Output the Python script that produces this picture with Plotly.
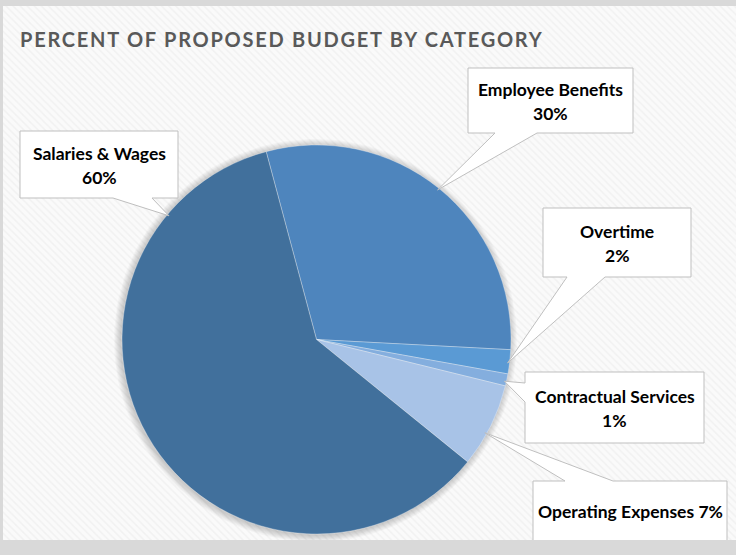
import math
import plotly.graph_objects as go

# Budget shares by category (percent of proposed budget)
categories = ["Employee Benefits", "Overtime", "Contractual Services",
              "Operating Expenses", "Salaries & Wages"]
percents = [30, 2, 1, 7, 60]
slice_colors = ["#4E85BD", "#5A9AD4", "#84AEDE", "#A8C3E7", "#41709C"]
title_text = "PERCENT OF PROPOSED BUDGET BY CATEGORY"

W, H = 736, 555
CX, CY, R = 316.5, 339.5, 194.5
START_ANGLE = -15  # first slice starts 15 degrees left of 12 o'clock

FONT = "Lato"

# Callout boxes: box (x0, y0, x1, y1) in pixels, side carrying the pointer,
# pointer base span on that side, pointer angle on the pie (deg clockwise from top)
callouts = [
    dict(box=(468, 68, 633, 133), side="bottom", base=(495, 537), angle=39, single=False),
    dict(box=(543, 208, 691, 277), side="bottom", base=(567, 605), angle=97, single=False),
    dict(box=(525, 372, 704, 443), side="left", base=(383, 402), angle=102.5, single=False),
    dict(box=(533, 481, 727, 541), side="top", base=(565, 613), angle=119, single=True),
    dict(box=(20, 131, 178, 198), side="bottom", base=(113, 152), angle=310, single=False),
]

fig = go.Figure()

# hatched chart area
fig.add_trace(go.Scatter(
    x=[3, W, W, 3, 3], y=[6, 6, 540, 540, 6], mode="lines", fill="toself",
    line=dict(width=0), fillcolor="#f9f9f9",
    fillpattern=dict(shape="\\", fgcolor="#e8e8e8", bgcolor="#fafafa", size=5, solidity=0.3),
    hoverinfo="skip", showlegend=False,
))

# soft shadow around the pie
for k in range(1, 8):
    rr = R + k
    ts = [2 * math.pi * i / 180 for i in range(181)]
    fig.add_trace(go.Scatter(
        x=[CX - 1 + rr * math.sin(t) for t in ts],
        y=[CY + 1 - rr * math.cos(t) for t in ts],
        mode="lines", fill="toself", line=dict(width=0),
        fillcolor="rgba(0,0,0,0.028)", hoverinfo="skip", showlegend=False,
    ))

fig.add_trace(go.Pie(
    labels=categories, values=percents, sort=False, direction="clockwise",
    rotation=START_ANGLE, textinfo="none", hoverinfo="label+percent",
    marker=dict(colors=slice_colors, line=dict(color="rgba(255,255,255,0.3)", width=1)),
    domain=dict(x=[(CX - R) / W, (CX + R) / W], y=[1 - (CY + R) / H, 1 - (CY - R) / H]),
    showlegend=False,
))

shapes = []
annotations = []
for cat, pct, c in zip(categories, percents, callouts):
    x0, y0, x1, y1 = c["box"]
    a, b = c["base"]
    th = math.radians(c["angle"])
    rt = R - 2
    tx, ty = CX + rt * math.sin(th), CY - rt * math.cos(th)
    if c["side"] == "bottom":
        pts = [(x0, y0), (x1, y0), (x1, y1), (b, y1), (tx, ty), (a, y1), (x0, y1)]
    elif c["side"] == "top":
        pts = [(x0, y0), (a, y0), (tx, ty), (b, y0), (x1, y0), (x1, y1), (x0, y1)]
    else:
        pts = [(x0, y0), (x1, y0), (x1, y1), (x0, y1), (x0, b), (tx, ty), (x0, a)]
    path = "M " + " L ".join(f"{px:.1f},{py:.1f}" for px, py in pts) + " Z"
    shapes.append(dict(type="path", path=path, xref="x", yref="y", layer="above",
                       fillcolor="#ffffff", line=dict(color="#bfbfbf", width=1)))
    xc = (x0 + x1) / 2
    if c["single"]:
        lines = [(f"{cat} {pct}%", (y0 + 540) / 2 + 1)]
    else:
        yc = (y0 + y1) / 2
        lines = [(cat, yc - 11), (f"{pct}%", yc + 13)]
    for txt, ly in lines:
        annotations.append(dict(
            text=f"<b>{txt}</b>", x=xc, y=ly, xref="x", yref="y", showarrow=False,
            xanchor="center", yanchor="middle",
            font=dict(family=FONT, size=17.5, color="#000000"),
        ))

annotations.append(dict(
    text=f'<span style="letter-spacing:1.75px"><b>{title_text}</b></span>',
    x=18, y=38.5, xref="x", yref="y", xanchor="left", yanchor="middle",
    showarrow=False, font=dict(family=FONT, size=20, color="#595959"),
))

# bottom grey band of the frame
shapes.append(dict(type="rect", xref="x", yref="y", x0=0, x1=W, y0=540, y1=H,
                   fillcolor="#d9d9d9", line=dict(width=0), layer="above"))

fig.update_layout(
    width=W, height=H, margin=dict(l=0, r=0, t=0, b=0),
    paper_bgcolor="#d9d9d9", plot_bgcolor="rgba(0,0,0,0)",
    xaxis=dict(range=[0, W], visible=False, fixedrange=True, domain=[0, 1]),
    yaxis=dict(range=[H, 0], visible=False, fixedrange=True, domain=[0, 1]),
    shapes=shapes, annotations=annotations, showlegend=False,
)

fig.write_html("out.html")
